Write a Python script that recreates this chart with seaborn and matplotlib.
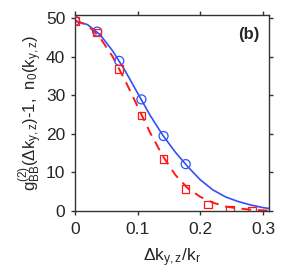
import matplotlib
matplotlib.use("Agg")
import matplotlib.pyplot as plt
import seaborn as sns
import pandas as pd

# curves
curve_x = [0.0, 0.02, 0.04, 0.06, 0.08, 0.10, 0.12, 0.14, 0.16, 0.18,
           0.20, 0.22, 0.24, 0.26, 0.28, 0.30, 0.31]
g2_curve = [49.3, 48.3, 45.7, 41.5, 36.3, 30.5, 24.7, 19.6, 15.2, 11.4,
            8.0, 5.4, 3.6, 2.4, 1.5, 0.8, 0.6]
n0_curve = [49.3, 48.2, 44.9, 40.0, 33.8, 27.0, 20.2, 14.2, 9.3, 5.8,
            3.6, 2.1, 1.1, 0.6, 0.3, 0.1, 0.05]

# simulation points
pts_x = [0.0, 0.0353, 0.0706, 0.1059, 0.1412, 0.1765, 0.2118, 0.2471, 0.2824]
g2_pts = [49.3, 46.5, 38.9, 28.9, 19.4, 12.1]
n0_pts = [49.3, 46.3, 36.8, 24.7, 13.4, 5.7, 1.6, 0.2, 0.0]

blue = "#3050f8"
red = "#ff1a1a"

sns.set_style("ticks")
plt.rcParams["font.family"] = ["Liberation Sans", "DejaVu Sans"]
plt.rcParams["mathtext.fontset"] = "custom"
plt.rcParams["mathtext.rm"] = "Liberation Sans"
plt.rcParams["mathtext.it"] = "Liberation Sans"

curves = pd.DataFrame({"x": curve_x, "g2": g2_curve, "n0": n0_curve})
blue_pts = pd.DataFrame({"x": pts_x[:len(g2_pts)], "y": g2_pts})
red_pts = pd.DataFrame({"x": pts_x, "y": n0_pts})

fig = plt.figure(figsize=(2.83, 2.73), dpi=100)
ax = fig.add_axes([0.265, 0.228, 0.687, 0.717])

sns.lineplot(data=curves, x="x", y="g2", ax=ax, color=blue, linewidth=1.2)
sns.lineplot(data=curves, x="x", y="n0", ax=ax, color=red, linewidth=1.4,
             linestyle=(0, (5, 3.5)))
sns.scatterplot(data=blue_pts, x="x", y="y", ax=ax, marker="o", s=42,
                facecolor="none", edgecolor=blue, linewidth=0.9, zorder=3)
sns.scatterplot(data=red_pts, x="x", y="y", ax=ax, marker="s", s=30,
                facecolor="none", edgecolor=red, linewidth=0.9, zorder=3)

ax.set_xlim(0, 0.31)
ax.set_ylim(0, 50.8)
ax.set_xticks([0, 0.1, 0.2, 0.3])
ax.set_xticklabels(["0", "0.1", "0.2", "0.3"])
ax.set_yticks([0, 10, 20, 30, 40, 50])

for s in ax.spines.values():
    s.set_visible(True)
    s.set_linewidth(1.0)
    s.set_color("#333333")
ax.tick_params(axis="both", direction="out", length=3, width=1.0,
               labelsize=12.5, top=True, right=True, color="#333333")
ax.tick_params(axis="x", pad=5)
ax.tick_params(axis="y", pad=4)

ax.set_xlabel(r"$\Delta$k$_{\mathregular{y,z}}$/k$_{\mathregular{r}}$",
              fontsize=12.5, labelpad=7)
ax.set_ylabel(r"g$^{\mathregular{(2)}}_{\mathregular{BB}}$($\Delta$k$_{\mathregular{y,z}}$)-1,  n$_{\mathregular{0}}$(k$_{\mathregular{y,z}}$)",
              fontsize=12, labelpad=1)

ax.text(0.95, 0.9, "(b)", transform=ax.transAxes, ha="right", va="center",
        fontsize=12, fontweight="bold")

fig.savefig("out.png", dpi=100)
